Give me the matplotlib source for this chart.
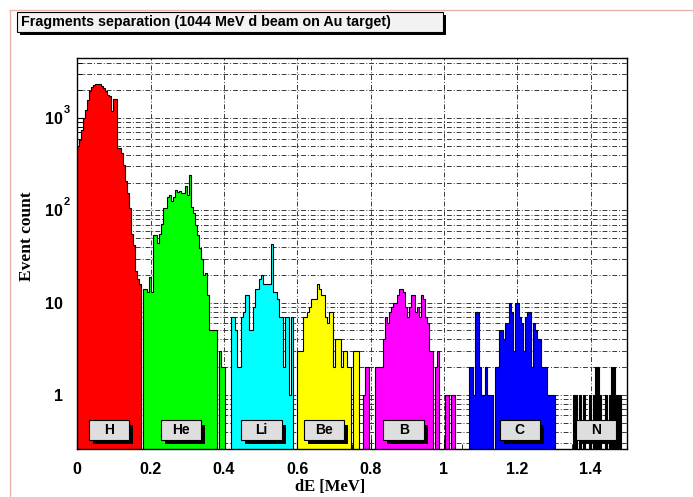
import numpy as np
import matplotlib
matplotlib.use('Agg')
import matplotlib.pyplot as plt
import matplotlib.ticker as mtick
import matplotlib.transforms as mtrans
from matplotlib.patches import Rectangle
from matplotlib.lines import Line2D

# ---- data ----
bin_w = 1.5/275
names = ['H', 'He', 'Li', 'Be', 'B', 'C', 'N']
colors = ['#ff0000', '#00ff00', '#00ffff', '#ffff00', '#ff00ff', '#0000ff', '#000000']
first_bin = [0, 33, 77, 110, 143, 196, 248]
h_counts = [495, 583, 749, 1000, 1233, 1584, 1950, 2158, 2300, 2360, 2360, 2330, 2250, 2120,
            1950, 1794, 1722, 1185, 1622, 1622, 474, 474, 419, 313, 207, 154, 106, 55, 42, 22, 18, 16]
he_counts = [14, 14, 13, 19, 13, 54, 54, 44, 56, 71, 105, 107, 141, 147, 126, 141, 166, 160, 162,
             153, 153, 185, 147, 242, 110, 93, 70, 54, 39, 30, 20, 21, 12, 5, 5, 5, 5, 0, 3, 2, 2]
li_counts = [7, 7, 5, 2, 2, 7, 8, 12, 12, 5, 5, 9, 14, 14, 18, 20, 16, 16, 16, 16, 43, 13, 13, 11,
             7, 7, 2, 7, 7, 1, 7]
be_counts = [3, 3, 3, 7, 7, 8, 9, 11, 11, 11, 16, 14, 12, 12, 7, 6, 8, 8, 2, 4, 4, 4, 2, 3, 3, 2, 2,
             0, 3, 3, 3]
b_counts = [1, 2, 2, 0, 0, 0, 2, 2, 2, 2, 4, 7, 6, 8, 9, 10, 10, 12, 14, 14, 13, 9, 7, 9, 12, 12, 8,
            9, 7, 12, 11, 7, 6, 3, 3, 0, 2, 3, 0, 0, 0, 1, 1, 0, 1, 1]
c_counts = [2, 2, 1, 8, 8, 2, 1, 1, 2, 1, 1, 1, 0, 2, 2, 5, 5, 4, 6, 6, 10, 8, 3, 10, 10, 7, 6, 3,
            7, 8, 8, 2, 6, 5, 4, 4, 2, 2, 2, 1, 1, 1, 1]
n_counts = [1, 1, 0, 1, 0, 1, 0, 0, 1, 0, 1, 2, 2, 1, 0, 0, 1, 0, 1, 2, 2, 1, 1, 1, 0, 0]
all_counts = [h_counts, he_counts, li_counts, be_counts, b_counts, c_counts, n_counts]
label_x = [0.087, 0.282, 0.502, 0.672, 0.89, 1.207, 1.414]
xticks = [0, 0.2, 0.4, 0.6, 0.8, 1.0, 1.2, 1.4]
xtick_labels = ['0', '0.2', '0.4', '0.6', '0.8', '1', '1.2', '1.4']
yticks = [1, 10, 100, 1000]
title = 'Fragments separation (1044 MeV d beam on Au target)'

W, H = 693, 497
fig = plt.figure(figsize=(W/100, H/100), dpi=100)
fig.patch.set_facecolor('white')
ax = fig.add_axes([77.3/W, 1-449/H, 550/W, 391/H])
ax.set_yscale('log')
ax.set_xlim(0, 1.5)
ax.set_ylim(0.26, 4480)

floor = 1e-2
for cnt, col, b0 in zip(all_counts, colors, first_bin):
  v = np.array(cnt, dtype=float)
  v = np.where(v > 0, v, floor)
  edges = (b0 + np.arange(len(v)+1))*bin_w
  ax.stairs(v, edges, baseline=floor, fill=True, color=col, lw=0, zorder=2)
  ax.stairs(v, edges, baseline=floor, color='black', lw=0.8, zorder=3)

# grid
gstyle = dict(color='#3a3a3a', lw=0.7, linestyle=(0, (5, 2, 1, 2)))
ax.set_axisbelow(True)
ax.xaxis.set_major_locator(mtick.FixedLocator(xticks))
ax.xaxis.set_major_formatter(mtick.FixedFormatter(xtick_labels))
ax.xaxis.set_minor_locator(mtick.MultipleLocator(0.05))
ax.yaxis.set_major_locator(mtick.FixedLocator(yticks))
ax.yaxis.set_major_formatter(mtick.FixedFormatter(['1', '10', '10', '10']))
ax.yaxis.set_minor_locator(mtick.LogLocator(base=10, subs=np.arange(2, 10)))
ax.yaxis.set_minor_formatter(mtick.NullFormatter())
ax.grid(True, axis='x', which='major', **gstyle)
ax.grid(True, axis='y', which='both', **gstyle)
ax.tick_params(axis='both', which='both', direction='in')
ax.tick_params(axis='x', which='major', length=7, pad=9)
ax.tick_params(axis='x', which='minor', length=3.5)
ax.tick_params(axis='y', which='major', length=8, pad=10.5)
ax.tick_params(axis='y', which='minor', length=4)
for lab in ax.get_xticklabels() + ax.get_yticklabels():
  lab.set_fontfamily('Liberation Sans')
  lab.set_fontweight('bold')
  lab.set_fontsize(11.5)
for s in ax.spines.values():
  s.set_linewidth(1.0)
# superscripts for 10^2, 10^3
for val, sup in [(100, '2'), (1000, '3')]:
  ax.annotate(sup, xy=(0, val), xycoords=('axes fraction', 'data'), xytext=(-7.5, 6),
              textcoords='offset points', fontsize=8, fontweight='bold', family='Liberation Sans',
              ha='center', va='center')

# species label boxes
trans = mtrans.blended_transform_factory(ax.transData, ax.transAxes)
bw, bh = 0.110, 0.050
sx, sy = 0.011, 0.011
for nm, xc in zip(names, label_x):
  ax.add_patch(Rectangle((xc-bw/2+sx, 0.023-sy), bw, bh, transform=trans, facecolor='black',
                         edgecolor='black', lw=0, zorder=5))
  ax.add_patch(Rectangle((xc-bw/2, 0.023), bw, bh, transform=trans, facecolor='#dedede',
                         edgecolor='black', lw=0.8, zorder=6))
  ax.text(xc, 0.023+bh/2, nm, transform=trans, ha='center', va='center', fontsize=10,
          fontweight='bold', family='Liberation Sans', zorder=7)

# axis titles
fig.text(330/W, 1-487/H, 'dE [MeV]', ha='center', va='center', fontsize=12,
         fontweight='bold', family='Liberation Serif')
fig.text(27/W, 1-236/H, 'Event count', ha='center', va='center', rotation=90, fontsize=12.5,
         fontweight='bold', family='Liberation Serif')

# title box with shadow
fig.add_artist(Rectangle(((16.7+3)/W, 1-(31.7+3)/H), 426.6/W, 20/H, transform=fig.transFigure,
                         facecolor='black', edgecolor='black', lw=0))
fig.add_artist(Rectangle((16.7/W, 1-31.7/H), 426.6/W, 20/H, transform=fig.transFigure,
                         facecolor='#f2f2f2', edgecolor='black', lw=0.8))
fig.text(21/W, 1-21.7/H, title, ha='left', va='center', fontsize=10.3, fontweight='bold',
         family='Liberation Sans')

# canvas border (pink)
fig.add_artist(Line2D([10/W, 10/W], [0, 1-10/H], transform=fig.transFigure, color='#efb0b0', lw=1))
fig.add_artist(Line2D([10/W, 1], [1-10/H, 1-10/H], transform=fig.transFigure, color='#efb0b0', lw=1))

fig.savefig('out.png', dpi=100)
